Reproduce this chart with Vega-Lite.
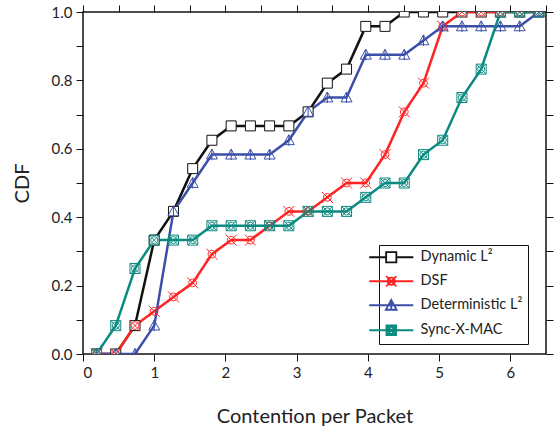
{
  "$schema": "https://vega.github.io/schema/vega-lite/v6.json",
  "width": 463,
  "height": 342,
  "autosize": {"type": "none"},
  "padding": {"left": 83, "top": 12, "right": 14, "bottom": 76},
  "background": "white",
  "config": {
    "view": {"stroke": "#111111", "strokeWidth": 1.5},
    "font": "Lato",
    "axis": {
      "labelFont": "Lato", "labelFontSize": 15, "labelColor": "#222222",
      "titleFont": "Lato", "titleFontSize": 20, "titleFontWeight": "normal", "titleColor": "#222222",
      "domain": false, "tickColor": "#111111", "tickWidth": 1, "grid": false
    }
  },
  "data": {"values": [
    {"series": "Dynamic L²", "x": 0.19, "y": 0},
    {"series": "Dynamic L²", "x": 0.46, "y": 0},
    {"series": "Dynamic L²", "x": 0.73, "y": 0.083},
    {"series": "Dynamic L²", "x": 1.0, "y": 0.333},
    {"series": "Dynamic L²", "x": 1.27, "y": 0.417},
    {"series": "Dynamic L²", "x": 1.54, "y": 0.542},
    {"series": "Dynamic L²", "x": 1.81, "y": 0.625},
    {"series": "Dynamic L²", "x": 2.08, "y": 0.667},
    {"series": "Dynamic L²", "x": 2.35, "y": 0.667},
    {"series": "Dynamic L²", "x": 2.62, "y": 0.667},
    {"series": "Dynamic L²", "x": 2.89, "y": 0.667},
    {"series": "Dynamic L²", "x": 3.16, "y": 0.708},
    {"series": "Dynamic L²", "x": 3.43, "y": 0.792},
    {"series": "Dynamic L²", "x": 3.70, "y": 0.833},
    {"series": "Dynamic L²", "x": 3.97, "y": 0.958},
    {"series": "Dynamic L²", "x": 4.24, "y": 0.958},
    {"series": "Dynamic L²", "x": 4.51, "y": 1},
    {"series": "Dynamic L²", "x": 4.78, "y": 1},
    {"series": "Dynamic L²", "x": 5.05, "y": 1},
    {"series": "Dynamic L²", "x": 5.32, "y": 1},
    {"series": "Dynamic L²", "x": 5.59, "y": 1},
    {"series": "Dynamic L²", "x": 5.86, "y": 1},
    {"series": "Dynamic L²", "x": 6.13, "y": 1},
    {"series": "Dynamic L²", "x": 6.40, "y": 1},
    {"series": "DSF", "x": 0.19, "y": 0},
    {"series": "DSF", "x": 0.46, "y": 0},
    {"series": "DSF", "x": 0.73, "y": 0.083},
    {"series": "DSF", "x": 1.0, "y": 0.125},
    {"series": "DSF", "x": 1.27, "y": 0.167},
    {"series": "DSF", "x": 1.54, "y": 0.208},
    {"series": "DSF", "x": 1.81, "y": 0.292},
    {"series": "DSF", "x": 2.08, "y": 0.333},
    {"series": "DSF", "x": 2.35, "y": 0.333},
    {"series": "DSF", "x": 2.62, "y": 0.375},
    {"series": "DSF", "x": 2.89, "y": 0.417},
    {"series": "DSF", "x": 3.16, "y": 0.417},
    {"series": "DSF", "x": 3.43, "y": 0.458},
    {"series": "DSF", "x": 3.70, "y": 0.5},
    {"series": "DSF", "x": 3.97, "y": 0.5},
    {"series": "DSF", "x": 4.24, "y": 0.583},
    {"series": "DSF", "x": 4.51, "y": 0.708},
    {"series": "DSF", "x": 4.78, "y": 0.792},
    {"series": "DSF", "x": 5.05, "y": 0.958},
    {"series": "DSF", "x": 5.32, "y": 1},
    {"series": "DSF", "x": 5.59, "y": 1},
    {"series": "DSF", "x": 5.86, "y": 1},
    {"series": "DSF", "x": 6.13, "y": 1},
    {"series": "DSF", "x": 6.40, "y": 1},
    {"series": "Deterministic L²", "x": 0.19, "y": 0},
    {"series": "Deterministic L²", "x": 0.46, "y": 0},
    {"series": "Deterministic L²", "x": 0.73, "y": 0},
    {"series": "Deterministic L²", "x": 1.0, "y": 0.083},
    {"series": "Deterministic L²", "x": 1.27, "y": 0.417},
    {"series": "Deterministic L²", "x": 1.54, "y": 0.5},
    {"series": "Deterministic L²", "x": 1.81, "y": 0.583},
    {"series": "Deterministic L²", "x": 2.08, "y": 0.583},
    {"series": "Deterministic L²", "x": 2.35, "y": 0.583},
    {"series": "Deterministic L²", "x": 2.62, "y": 0.583},
    {"series": "Deterministic L²", "x": 2.89, "y": 0.625},
    {"series": "Deterministic L²", "x": 3.16, "y": 0.708},
    {"series": "Deterministic L²", "x": 3.43, "y": 0.75},
    {"series": "Deterministic L²", "x": 3.70, "y": 0.75},
    {"series": "Deterministic L²", "x": 3.97, "y": 0.875},
    {"series": "Deterministic L²", "x": 4.24, "y": 0.875},
    {"series": "Deterministic L²", "x": 4.51, "y": 0.875},
    {"series": "Deterministic L²", "x": 4.78, "y": 0.917},
    {"series": "Deterministic L²", "x": 5.05, "y": 0.958},
    {"series": "Deterministic L²", "x": 5.32, "y": 0.958},
    {"series": "Deterministic L²", "x": 5.59, "y": 0.958},
    {"series": "Deterministic L²", "x": 5.86, "y": 0.958},
    {"series": "Deterministic L²", "x": 6.13, "y": 0.958},
    {"series": "Deterministic L²", "x": 6.40, "y": 1},
    {"series": "Sync-X-MAC", "x": 0.19, "y": 0},
    {"series": "Sync-X-MAC", "x": 0.46, "y": 0.083},
    {"series": "Sync-X-MAC", "x": 0.73, "y": 0.25},
    {"series": "Sync-X-MAC", "x": 1.0, "y": 0.333},
    {"series": "Sync-X-MAC", "x": 1.27, "y": 0.333},
    {"series": "Sync-X-MAC", "x": 1.54, "y": 0.333},
    {"series": "Sync-X-MAC", "x": 1.81, "y": 0.375},
    {"series": "Sync-X-MAC", "x": 2.08, "y": 0.375},
    {"series": "Sync-X-MAC", "x": 2.35, "y": 0.375},
    {"series": "Sync-X-MAC", "x": 2.62, "y": 0.375},
    {"series": "Sync-X-MAC", "x": 2.89, "y": 0.375},
    {"series": "Sync-X-MAC", "x": 3.16, "y": 0.417},
    {"series": "Sync-X-MAC", "x": 3.43, "y": 0.417},
    {"series": "Sync-X-MAC", "x": 3.70, "y": 0.417},
    {"series": "Sync-X-MAC", "x": 3.97, "y": 0.458},
    {"series": "Sync-X-MAC", "x": 4.24, "y": 0.5},
    {"series": "Sync-X-MAC", "x": 4.51, "y": 0.5},
    {"series": "Sync-X-MAC", "x": 4.78, "y": 0.583},
    {"series": "Sync-X-MAC", "x": 5.05, "y": 0.625},
    {"series": "Sync-X-MAC", "x": 5.32, "y": 0.75},
    {"series": "Sync-X-MAC", "x": 5.59, "y": 0.833},
    {"series": "Sync-X-MAC", "x": 5.86, "y": 1},
    {"series": "Sync-X-MAC", "x": 6.13, "y": 1},
    {"series": "Sync-X-MAC", "x": 6.40, "y": 1}
  ]},
  "layer": [
    {
      "mark": {"type": "line", "strokeWidth": 2.5, "clip": true},
      "encoding": {
        "x": {
          "field": "x", "type": "quantitative",
          "scale": {"domain": [0, 6.5], "nice": false, "zero": false},
          "axis": {
            "orient": "bottom", "title": "Contention per Packet", "titlePadding": 26,
            "values": [0, 0.5, 1, 1.5, 2, 2.5, 3, 3.5, 4, 4.5, 5, 5.5, 6, 6.5],
            "format": "d", "labelExpr": "datum.value % 1 === 0 && datum.value < 6.4 ? datum.label : ''",
            "labelPadding": 4, "tickSize": 7,
            "encode": {"ticks": {"update": {"y2": {"signal": "datum.value % 1 === 0 ? 7 : 4"}}}}
          }
        },
        "y": {
          "field": "y", "type": "quantitative",
          "scale": {"domain": [0, 1], "nice": false},
          "axis": {
            "orient": "left", "title": "CDF", "titlePadding": 19,
            "values": [0, 0.1, 0.2, 0.3, 0.4, 0.5, 0.6, 0.7, 0.8, 0.9, 1.0],
            "format": ".1f", "labelExpr": "round(datum.value * 10) % 2 === 0 ? datum.label : ''",
            "labelPadding": 4, "tickSize": 7,
            "encode": {"ticks": {"update": {"x2": {"signal": "round(datum.value * 10) % 2 === 0 ? -7 : -4"}}}}
          }
        },
        "color": {
          "field": "series", "type": "nominal",
          "sort": ["Dynamic L²", "DSF", "Deterministic L²", "Sync-X-MAC"],
          "scale": {
            "domain": ["Dynamic L²", "DSF", "Deterministic L²", "Sync-X-MAC"],
            "range": ["#111111", "#ff2424", "#3b4fa8", "#0b8a80"]
          },
          "legend": {
            "orient": "none", "legendX": 296, "legendY": 233, "title": null,
            "strokeColor": "#111111", "fillColor": "white", "padding": 5,
            "labelFont": "Lato", "labelFontSize": 14.5, "labelColor": "#222222",
            "symbolSize": 144, "labelOffset": 22, "rowPadding": 6,
            "encode": {
              "symbols": {
                "update": {
                  "shape": {"signal": "datum.value === 'DSF' ? 'M-3.67,0H3.67M-0.85,-0.85L0.85,0.85M-0.85,0.85L0.85,-0.85M-0.6,0A0.6,0.6 0 1,0 0.6,0A0.6,0.6 0 1,0 -0.6,0' : datum.value === 'Sync-X-MAC' ? 'M-3.67,0H3.67M-0.8,-0.8H0.8V0.8H-0.8ZM-0.8,-0.8L0.8,0.8M-0.8,0.8L0.8,-0.8M-0.55,0A0.55,0.55 0 1,0 0.55,0A0.55,0.55 0 1,0 -0.55,0' : datum.value === 'Dynamic L²' ? 'M-3.67,0H-0.85M0.85,0H3.67M-0.85,-0.85H0.85V0.85H-0.85Z' : 'M-3.67,0H3.67M0,-0.9L0.9,0.75H-0.9ZM0,-0.9V0.9'"},
                  "fill": {"value": "white"},
                  "stroke": {"scale": "color", "field": "value"},
                  "strokeWidth": {"value": 1.8},
                  "opacity": {"value": 1}
                }
              }
            }
          }
        }
      }
    },
    {
      "transform": [{"filter": "datum.series === 'Dynamic L²'"}],
      "mark": {"type": "point", "shape": "M-1,-1H1V1H-1Z", "size": 100, "strokeWidth": 1, "opacity": 1, "fill": "white", "fillOpacity": 1, "clip": true},
      "encoding": {
        "x": {
          "field": "x", "type": "quantitative",
          "axis": {
            "orient": "top", "title": null, "labels": false,
            "values": [0, 0.5, 1, 1.5, 2, 2.5, 3, 3.5, 4, 4.5, 5, 5.5, 6, 6.5],
            "tickSize": 7,
            "encode": {"ticks": {"update": {"y2": {"signal": "datum.value % 1 === 0 ? 7 : 4"}}}}
          }
        },
        "y": {
          "field": "y", "type": "quantitative",
          "axis": {
            "orient": "right", "title": null, "labels": false,
            "values": [0, 0.1, 0.2, 0.3, 0.4, 0.5, 0.6, 0.7, 0.8, 0.9, 1.0],
            "tickSize": 7,
            "encode": {"ticks": {"update": {"x2": {"signal": "round(datum.value * 10) % 2 === 0 ? -7 : -4"}}}}
          }
        },
        "stroke": {
          "field": "series", "type": "nominal",
          "scale": {
            "domain": ["Dynamic L²", "DSF", "Deterministic L²", "Sync-X-MAC"],
            "range": ["#111111", "#ff2424", "#3b4fa8", "#0b8a80"]
          },
          "legend": null
        }
      }
    },
    {
      "transform": [{"filter": "datum.series === 'DSF'"}],
      "mark": {"type": "point", "shape": "M-1,-1L1,1M-1,1L1,-1M-0.7,0A0.7,0.7 0 1,0 0.7,0A0.7,0.7 0 1,0 -0.7,0", "size": 121, "strokeWidth": 1, "opacity": 1, "filled": false, "clip": true},
      "encoding": {
        "x": {"field": "x", "type": "quantitative", "axis": null},
        "y": {"field": "y", "type": "quantitative", "axis": null},
        "stroke": {"field": "series", "type": "nominal", "legend": null}
      }
    },
    {
      "transform": [{"filter": "datum.series === 'Deterministic L²'"}],
      "mark": {"type": "point", "shape": "M0,-1L1,0.8H-1ZM0,-1V1", "size": 121, "strokeWidth": 1, "opacity": 1, "filled": false, "clip": true},
      "encoding": {
        "x": {"field": "x", "type": "quantitative", "axis": null},
        "y": {"field": "y", "type": "quantitative", "axis": null},
        "stroke": {"field": "series", "type": "nominal", "legend": null}
      }
    },
    {
      "transform": [{"filter": "datum.series === 'Sync-X-MAC'"}],
      "mark": {"type": "point", "shape": "M-1,-1H1V1H-1ZM-1,-1L1,1M-1,1L1,-1M-0.7,0A0.7,0.7 0 1,0 0.7,0A0.7,0.7 0 1,0 -0.7,0", "size": 100, "strokeWidth": 1, "opacity": 1, "filled": false, "clip": true},
      "encoding": {
        "x": {"field": "x", "type": "quantitative", "axis": null},
        "y": {"field": "y", "type": "quantitative", "axis": null},
        "stroke": {"field": "series", "type": "nominal", "legend": null}
      }
    }
  ],
  "resolve": {"axis": {"x": "independent", "y": "independent"}, "scale": {"stroke": "shared"}}
}
